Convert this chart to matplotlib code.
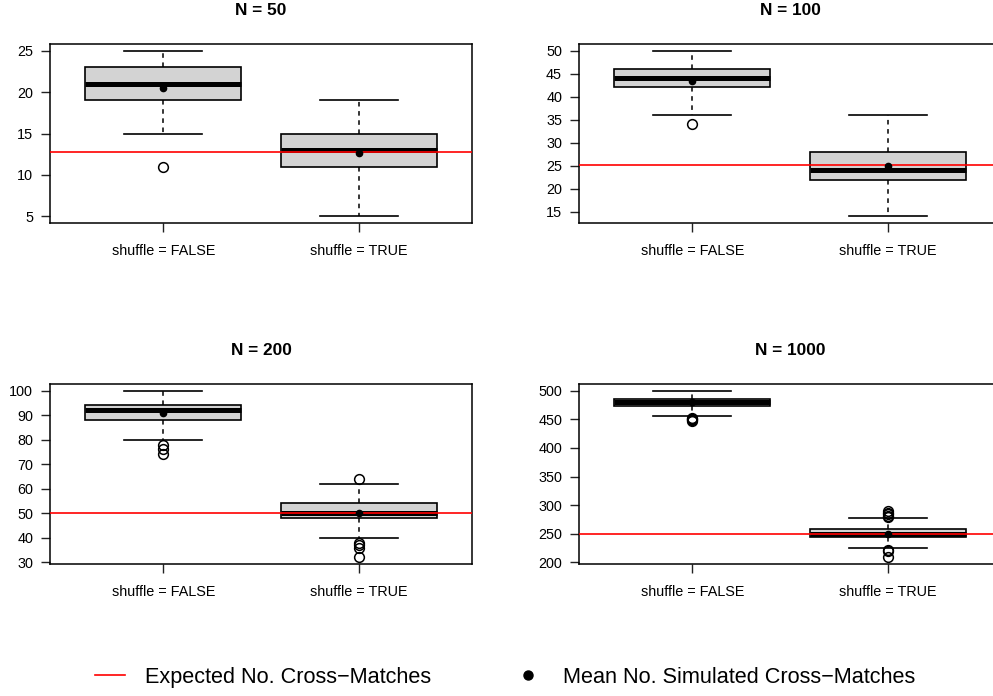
import matplotlib
matplotlib.use('Agg')
import matplotlib.pyplot as plt
from matplotlib.lines import Line2D

plt.rcParams['font.family'] = ['Liberation Sans', 'DejaVu Sans']

# groups on the x axis
groups = ['shuffle = FALSE', 'shuffle = TRUE']
titles = ['N = 50', 'N = 100', 'N = 200', 'N = 1000']

# box stats per panel, [FALSE, TRUE]
medians = [[21, 13], [44, 24], [92, 50], [480, 250]]
q1s = [[19, 11], [42, 22], [88, 48], [474, 245]]
q3s = [[23, 15], [46, 28], [94, 54], [485, 258]]
whis_lo = [[15, 5], [36, 14], [80, 40], [456, 225]]
whis_hi = [[25, 19], [50, 36], [100, 62], [500, 278]]
fliers = [
    [[11], []],
    [[34], []],
    [[78, 76, 74], [64, 38, 37, 36, 32]],
    [[453, 451, 450, 449, 447], [280, 282, 285, 287, 290, 222, 220, 209]],
]
means = [[20.54, 12.7], [43.5, 24.9], [90.9, 50.1], [479.5, 250.5]]
expected = [12.755, 25.25, 50.25, 250.25]
yticks = [
    [5, 10, 15, 20, 25],
    [15, 20, 25, 30, 35, 40, 45, 50],
    [30, 40, 50, 60, 70, 80, 90, 100],
    [200, 250, 300, 350, 400, 450, 500],
]

W, H = 993, 696
fig = plt.figure(figsize=(W / 100, H / 100), dpi=100)

# axes boxes in pixels: left, top, width, height
boxes = [(50, 44, 422, 179), (579, 44, 422, 179),
         (50, 384, 422, 180), (579, 384, 422, 180)]

for i in range(4):
    l, t, w, h = boxes[i]
    ax = fig.add_axes([l / W, 1 - (t + h) / H, w / W, h / H])
    stats = []
    for j in range(2):
        stats.append(dict(med=medians[i][j], q1=q1s[i][j], q3=q3s[i][j],
                          whislo=whis_lo[i][j], whishi=whis_hi[i][j],
                          fliers=fliers[i][j], mean=means[i][j]))
    ax.bxp(stats, positions=[1, 2], widths=0.8, capwidths=0.4,
           patch_artist=True, showmeans=True,
           boxprops=dict(facecolor='#D3D3D3', edgecolor='black', linewidth=1.2),
           medianprops=dict(color='black', linewidth=3.6, solid_capstyle='butt'),
           whiskerprops=dict(color='black', linewidth=1.1, linestyle=(0, (3, 3))),
           capprops=dict(color='black', linewidth=1.2),
           flierprops=dict(marker='o', markerfacecolor='none', markeredgecolor='black',
                           markersize=7, markeredgewidth=1.1),
           meanprops=dict(marker='o', markerfacecolor='black', markeredgecolor='black',
                          markersize=4.5, zorder=5))
    ax.axhline(expected[i], color='red', linewidth=1.2, zorder=4)

    allv = whis_lo[i] + whis_hi[i] + fliers[i][0] + fliers[i][1]
    lo, hi = min(allv), max(allv)
    pad = 0.04 * (hi - lo)
    ax.set_ylim(lo - pad, hi + pad)
    ax.set_xlim(0.42, 2.58)
    ax.set_yticks(yticks[i])
    ax.set_xticks([1, 2])
    ax.set_xticklabels(groups)
    ax.tick_params(axis='both', direction='out', length=6.2, width=1.0,
                   labelsize=10.4, color='#222222')
    ax.tick_params(axis='x', pad=9)
    ax.tick_params(axis='y', pad=6)
    for s in ax.spines.values():
        s.set_linewidth(1.1)
    ax.set_title(titles[i], fontsize=12.4, fontweight='bold', pad=21)

handles = [Line2D([], [], color='red', linewidth=1.2),
           Line2D([], [], color='black', marker='o', linestyle='none', markersize=6.5)]
labels = ['Expected No. Cross\u2212Matches', 'Mean No. Simulated Cross\u2212Matches']
fig.legend(handles, labels, loc='center left', bbox_to_anchor=(95 / W, 0.027),
           ncol=2, frameon=False, fontsize=15.6, handlelength=1.4,
           handletextpad=0.9, columnspacing=3.8, borderpad=0, borderaxespad=0)

fig.savefig('out.png', dpi=100)
